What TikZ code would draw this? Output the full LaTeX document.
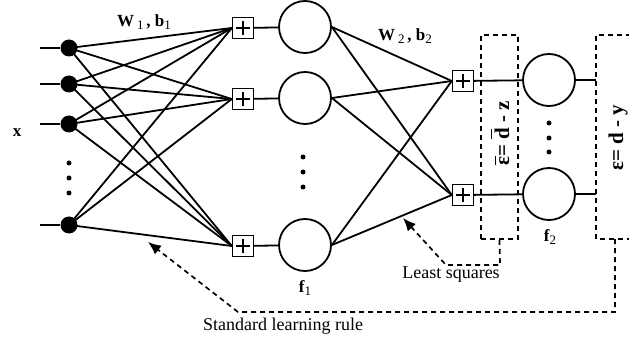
\documentclass[tikz,border=0pt]{standalone}
\usepackage{fontspec}
\setmainfont{Liberation Serif}
\usetikzlibrary{arrows.meta}
\tikzstyle{inp} = [circle, fill=black, inner sep=0pt, minimum size=17pt]
\tikzstyle{sumbox} = [rectangle, draw=black, line width=1.4pt, minimum size=21pt, inner sep=0pt, fill=white,
  path picture={\draw[line width=1.1pt] ([xshift=-7pt]path picture bounding box.center) -- ([xshift=7pt]path picture bounding box.center)
  ([yshift=-7pt]path picture bounding box.center) -- ([yshift=7pt]path picture bounding box.center);}]
\tikzstyle{neuron} = [circle, draw=black, line width=1.8pt, minimum size=52pt, inner sep=0pt]
\tikzstyle{vdot} = [circle, fill=black, inner sep=0pt, minimum size=5pt]
\tikzstyle{wire} = [line width=1.8pt]
\tikzstyle{fb} = [line width=1.7pt, dash pattern=on 5pt off 4pt]
\tikzstyle{fbarrow} = [fb, -{Latex[length=13pt,width=11pt]}]
\tikzstyle{lbl} = [font=\fontsize{18}{21}\selectfont, inner sep=0pt]
\tikzstyle{blbl} = [font=\fontsize{17}{20}\selectfont\bfseries, inner sep=0pt]
\tikzstyle{elbl} = [font=\fontsize{21}{24}\selectfont\bfseries, inner sep=0pt, rotate=90]
\newcommand{\lowidx}[1]{\raisebox{-0.4ex}{\mdseries\fontsize{13}{13}\selectfont #1}}
\newcommand{\barred}[2]{\leavevmode\rlap{\raisebox{#1}{\rule{0.46em}{0.07em}}}#2}

\begin{document}
\begin{tikzpicture}[x=1pt, y=-1pt]
    \useasboundingbox (0,0) rectangle (629,339);
    % input layer
    \foreach \i/\y in {1/48, 2/84, 3/124, 4/225} {
        \node (in\i) [inp] at (69,\y) {};
        \coordinate (x\i) at (40,\y);
        \draw [wire] (x\i) -- (in\i);
    }
    \foreach \i/\y in {1/163, 2/178, 3/193}
        \node (idot\i) [vdot] at (69,\y) {};
    \node (xlab) [blbl] at (17,133) {x};
    % hidden layer
    \node (s1) [sumbox] at (243,28) {};
    \node (s2) [sumbox] at (243,99) {};
    \node (s3) [sumbox] at (243,246) {};
    \node (h1) [neuron] at (305,27) {};
    \node (h2) [neuron] at (305,98) {};
    \node (h3) [neuron] at (305,245) {};
    \foreach \i/\y in {1/157, 2/172, 3/187}
        \node (hdot\i) [vdot] at (303,\y) {};
    \foreach \i in {1,...,4}
        \foreach \j in {1,2,3}
            \draw [wire] (in\i.center) -- (s\j.west);
    \foreach \j in {1,2,3}
        \draw [wire] (s\j) -- (h\j);
    \node (w1) [blbl] at (144,22) {W\,\lowidx{1}\,, b\lowidx{1}};
    \node (f1) [blbl] at (305,288) {f\lowidx{1}};
    % output layer
    \node (o1) [sumbox] at (463,81) {};
    \node (o2) [sumbox] at (463,195) {};
    \foreach \j in {1,2,3}
        \foreach \k in {1,2}
            \draw [wire] (h\j.east) -- (o\k.west);
    \node (w2) [blbl] at (405,36) {W\,\lowidx{2}\,, b\lowidx{2}};
    \node (g1) [neuron] at (549,80) {};
    \node (g2) [neuron] at (549,194) {};
    \foreach \i/\y in {1/123, 2/138, 3/152}
        \node (gdot\i) [vdot] at (549,\y) {};
    \node (f2) [blbl] at (550,237) {f\lowidx{2}};
    \coordinate (e1) at (596,80);
    \coordinate (e2) at (596,194);
    \draw [wire] (o1) -- (g1);
    \draw [wire] (o2) -- (g2);
    \draw [wire] (g1) -- (e1);
    \draw [wire] (g2) -- (e2);
    % error boxes
    \node (ebar) [draw, fb, minimum width=37pt, minimum height=204pt, inner sep=0pt] at (499.5,137) {};
    \node (ebarlab) [elbl] at (500,133) {\barred{0.6em}{ε}= \barred{0.8em}{d} - z};
    \draw [fb] (640,35) -- (596,35) -- (596,239) -- (640,239);
    \coordinate (etop) at (615,239);
    \node (elab) [elbl] at (618,138) {ε= d - y};
    % feedback
    \coordinate (lsq) at (403,218);
    \coordinate (std) at (148,242);
    \draw [fbarrow] (ebar.south) -- (500,265) -- (446,265) -- (lsq);
    \draw [fbarrow] (etop) -- (615,312) -- (238,312) -- (std);
    \node (lsqlab) [lbl] at (451,275) {Least squares};
    \node (stdlab) [lbl] at (283,326) {Standard learning rule};
\end{tikzpicture}
\end{document}
